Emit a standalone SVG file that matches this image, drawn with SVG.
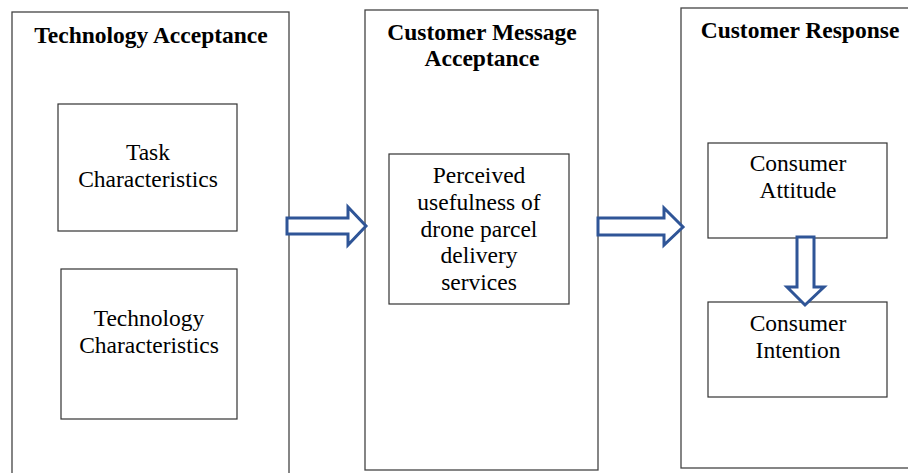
<svg xmlns="http://www.w3.org/2000/svg" width="908" height="473" viewBox="0 0 908 473">
<style>
.panel{fill:#fff;stroke:#444;stroke-width:1.3}
.box{fill:#fff;stroke:#333;stroke-width:1.2}
.h{font-family:"Liberation Serif",serif;font-weight:bold;font-size:23.5px;text-anchor:middle;fill:#000}
.t{font-family:"Liberation Serif",serif;font-size:23.5px;text-anchor:middle;fill:#000}
.arr{fill:#fff;stroke:#2F5597;stroke-width:3;stroke-linejoin:miter}
</style>
<rect width="908" height="473" fill="#fff"/>
<g id="panel-tech">
<rect class="panel" x="12" y="12" width="277" height="470"/>
<text class="h" x="151" y="43">Technology Acceptance</text>
</g>
<g id="panel-msg">
<rect class="panel" x="365" y="10" width="233" height="460"/>
<text class="h" x="482" y="40">Customer Message</text>
<text class="h" x="482" y="66">Acceptance</text>
</g>
<g id="panel-resp">
<rect class="panel" x="681" y="8" width="240" height="460"/>
<text class="h" x="800" y="38">Customer Response</text>
</g>
<g id="task">
<rect class="box" x="58" y="104" width="179" height="127"/>
<text class="t" x="148" y="160">Task</text>
<text class="t" x="148" y="187">Characteristics</text>
</g>
<g id="techchar">
<rect class="box" x="61" y="269" width="176" height="150"/>
<text class="t" x="149" y="326">Technology</text>
<text class="t" x="149" y="353">Characteristics</text>
</g>
<g id="perceived">
<rect class="box" x="389" y="154" width="180" height="150"/>
<text class="t" x="479" y="183">Perceived</text>
<text class="t" x="479" y="210">usefulness of</text>
<text class="t" x="479" y="237">drone parcel</text>
<text class="t" x="479" y="263">delivery</text>
<text class="t" x="479" y="290">services</text>
</g>
<g id="attitude">
<rect class="box" x="708" y="143" width="179" height="95"/>
<text class="t" x="798" y="171">Consumer</text>
<text class="t" x="798" y="198">Attitude</text>
</g>
<g id="intention">
<rect class="box" x="708" y="302" width="179" height="95"/>
<text class="t" x="798" y="331">Consumer</text>
<text class="t" x="798" y="358">Intention</text>
</g>
<g id="connectors">
<polygon class="arr" points="287,218 348,218 348,207 366,226 348,245 348,234 287,234"/>
<polygon class="arr" points="598,218 664,218 664,208 683,227 664,245 664,235 598,235"/>
<polygon class="arr" points="797,237 814,237 814,287 824,287 805,305 787,287 797,287"/>
</g>
</svg>
